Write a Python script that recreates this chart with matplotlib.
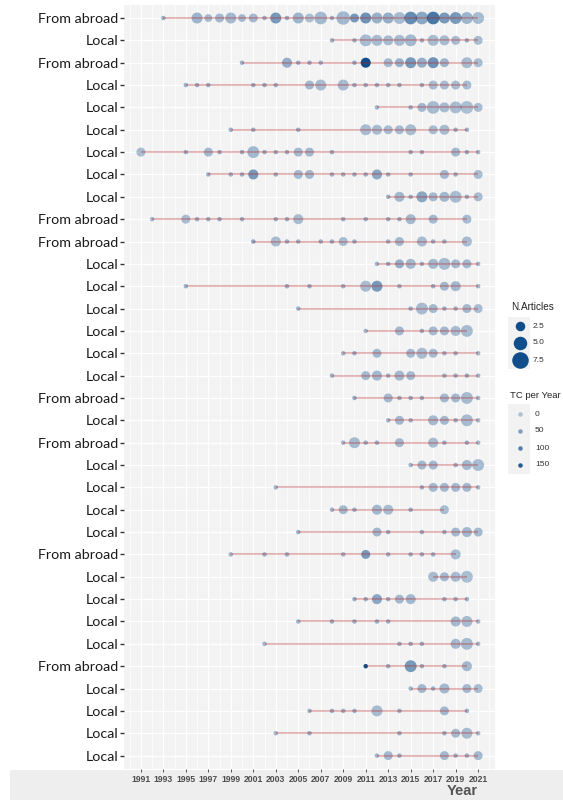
import matplotlib.pyplot as plt
from matplotlib.patches import Rectangle

# Authors' production over time (rows from top to bottom)
authors = ["From abroad", "Local", "From abroad", "Local", "Local", "Local", "Local", "Local",
           "Local", "From abroad", "From abroad", "Local", "Local", "Local", "Local", "Local",
           "Local", "From abroad", "Local", "From abroad", "Local", "Local", "Local", "Local",
           "From abroad", "Local", "Local", "Local", "Local", "From abroad", "Local", "Local",
           "Local", "Local"]

years = [
    [1993, 1996, 1997, 1998, 1999, 2000, 2001, 2002, 2003, 2004, 2005, 2006, 2007, 2008,
     2009, 2010, 2011, 2012, 2013, 2014, 2015, 2016, 2017, 2018, 2019, 2020, 2021],
    [2008, 2010, 2011, 2012, 2013, 2014, 2015, 2016, 2017, 2018, 2019, 2020, 2021],
    [2000, 2004, 2005, 2006, 2007, 2010, 2011, 2013, 2014, 2015, 2016, 2017, 2018, 2020, 2021],
    [1995, 1996, 1997, 2001, 2002, 2003, 2006, 2007, 2009, 2010, 2011, 2012, 2013, 2014,
     2016, 2017, 2018, 2019, 2020],
    [2012, 2015, 2016, 2017, 2018, 2019, 2020, 2021],
    [1999, 2001, 2005, 2011, 2012, 2013, 2014, 2015, 2017, 2018, 2019, 2020],
    [1991, 1995, 1997, 1998, 2000, 2001, 2002, 2003, 2004, 2005, 2006, 2008, 2015, 2016,
     2019, 2020, 2021],
    [1997, 1999, 2000, 2001, 2003, 2005, 2006, 2008, 2009, 2010, 2011, 2012, 2013, 2015,
     2018, 2019, 2021],
    [2013, 2014, 2015, 2016, 2017, 2018, 2019, 2020, 2021],
    [1992, 1995, 1996, 1997, 1998, 2000, 2003, 2004, 2005, 2009, 2011, 2013, 2014, 2015,
     2017, 2020],
    [2001, 2003, 2004, 2005, 2007, 2008, 2009, 2010, 2013, 2014, 2016, 2017, 2018, 2020],
    [2012, 2013, 2014, 2015, 2016, 2017, 2018, 2019, 2020, 2021],
    [1995, 2004, 2006, 2009, 2011, 2012, 2014, 2017, 2018, 2019, 2021],
    [2005, 2015, 2016, 2017, 2018, 2019, 2020, 2021],
    [2011, 2014, 2016, 2017, 2018, 2019, 2020],
    [2009, 2010, 2012, 2015, 2016, 2017, 2018, 2019, 2021],
    [2008, 2011, 2012, 2013, 2014, 2015, 2018, 2019, 2020, 2021],
    [2010, 2013, 2014, 2015, 2016, 2018, 2019, 2020, 2021],
    [2013, 2014, 2015, 2017, 2018, 2019, 2020, 2021],
    [2009, 2010, 2011, 2012, 2014, 2017, 2018, 2020, 2021],
    [2015, 2016, 2017, 2019, 2020, 2021],
    [2003, 2016, 2017, 2018, 2019, 2020, 2021],
    [2008, 2009, 2010, 2012, 2013, 2015, 2018],
    [2005, 2012, 2013, 2016, 2018, 2019, 2020, 2021],
    [1999, 2002, 2004, 2009, 2011, 2013, 2015, 2016, 2017, 2019],
    [2017, 2018, 2019, 2020],
    [2010, 2011, 2012, 2013, 2014, 2015, 2018, 2019, 2020],
    [2005, 2008, 2010, 2012, 2013, 2019, 2020, 2021],
    [2002, 2014, 2015, 2016, 2019, 2020, 2021],
    [2011, 2013, 2015, 2016, 2018, 2020],
    [2015, 2016, 2017, 2018, 2020, 2021],
    [2006, 2008, 2009, 2010, 2012, 2014, 2018, 2020],
    [2003, 2006, 2014, 2018, 2019, 2020, 2021],
    [2012, 2013, 2014, 2018, 2019, 2020, 2021],
]

articles = [
    [1, 6, 3, 4, 6, 3, 4, 1, 6, 1, 6, 4, 8, 1, 9, 4, 6, 6, 6, 7, 8, 8, 8, 6, 7, 7, 7],
    [1, 1, 7, 6, 5, 6, 7, 1, 6, 5, 4, 1, 4],
    [1, 5, 1, 1, 1, 1, 5, 4, 4, 6, 5, 6, 4, 6, 4],
    [1, 1, 1, 1, 1, 1, 4, 6, 6, 1, 1, 1, 1, 1, 1, 4, 4, 4, 4],
    [1, 1, 4, 8, 5, 7, 8, 4],
    [1, 1, 1, 6, 5, 4, 4, 6, 4, 5, 1, 1],
    [4, 1, 4, 1, 1, 7, 1, 1, 1, 4, 4, 1, 1, 1, 4, 1, 1],
    [1, 1, 1, 5, 1, 4, 4, 1, 1, 1, 1, 5, 1, 1, 4, 1, 4],
    [1, 5, 1, 6, 4, 5, 7, 1, 4],
    [1, 4, 1, 1, 1, 1, 1, 1, 5, 1, 1, 1, 1, 5, 4, 4],
    [1, 5, 1, 1, 1, 1, 4, 1, 1, 4, 5, 1, 1, 5],
    [1, 1, 4, 5, 1, 5, 7, 4, 4, 1],
    [1, 1, 1, 1, 6, 6, 1, 1, 4, 5, 1],
    [1, 1, 7, 4, 1, 1, 4, 4],
    [1, 4, 1, 4, 4, 5, 7],
    [1, 1, 4, 4, 6, 4, 1, 1, 1],
    [1, 4, 5, 1, 5, 4, 1, 1, 1, 1],
    [1, 4, 1, 1, 1, 4, 4, 7, 1],
    [1, 4, 1, 5, 4, 1, 7, 1],
    [1, 6, 1, 1, 4, 5, 1, 1, 1],
    [1, 4, 4, 1, 5, 7],
    [1, 1, 4, 4, 4, 4, 1],
    [1, 4, 1, 5, 5, 1, 4],
    [1, 4, 1, 1, 1, 4, 5, 4],
    [1, 1, 1, 1, 4, 1, 1, 1, 1, 5],
    [5, 4, 5, 7],
    [1, 1, 5, 1, 4, 5, 1, 1, 1],
    [1, 1, 1, 1, 1, 5, 6, 1],
    [1, 1, 1, 1, 5, 7, 1],
    [1, 1, 7, 1, 1, 5],
    [1, 4, 1, 5, 4, 4],
    [1, 1, 1, 1, 6, 1, 4, 1],
    [1, 1, 1, 1, 4, 6, 1],
    [1, 4, 1, 4, 1, 1, 4],
]

tc_per_year = [
    [25, 20, 15, 15, 15, 15, 15, 25, 60, 25, 20, 5, 15, 25, 15, 60, 70, 25, 30, 10, 80, 40, 110, 60, 60, 20, 10],
    [25, 25, 10, 10, 10, 10, 15, 25, 10, 10, 10, 25, 10],
    [25, 30, 25, 25, 25, 30, 170, 15, 25, 60, 30, 70, 20, 10, 10],
    [25, 25, 25, 25, 25, 25, 15, 10, 10, 25, 25, 25, 25, 25, 25, 10, 10, 10, 10],
    [20, 25, 15, 10, 10, 10, 5, 10],
    [25, 25, 25, 10, 10, 10, 10, 10, 10, 10, 25, 25],
    [10, 25, 15, 25, 25, 15, 25, 25, 25, 15, 15, 25, 25, 25, 15, 25, 25],
    [25, 25, 25, 60, 25, 15, 15, 25, 25, 25, 25, 40, 25, 25, 15, 25, 10],
    [25, 15, 25, 40, 15, 15, 10, 25, 10],
    [15, 10, 25, 25, 25, 25, 25, 25, 10, 25, 25, 25, 25, 15, 15, 10],
    [40, 10, 25, 25, 25, 25, 10, 25, 25, 15, 10, 25, 25, 10],
    [20, 25, 30, 15, 25, 15, 10, 15, 15, 20],
    [25, 25, 25, 25, 10, 60, 25, 25, 15, 15, 20],
    [20, 25, 10, 15, 25, 25, 15, 10],
    [20, 15, 25, 15, 15, 10, 10],
    [25, 25, 15, 15, 10, 15, 25, 25, 20],
    [25, 15, 15, 25, 15, 15, 25, 25, 25, 20],
    [25, 15, 25, 25, 25, 15, 15, 10, 20],
    [20, 15, 25, 15, 15, 25, 10, 20],
    [20, 10, 25, 25, 15, 10, 25, 25, 20],
    [20, 15, 15, 25, 15, 10],
    [20, 25, 15, 15, 15, 15, 20],
    [20, 15, 25, 15, 10, 25, 10],
    [20, 15, 25, 25, 25, 15, 15, 15],
    [20, 25, 25, 25, 60, 25, 25, 25, 25, 10],
    [10, 15, 10, 5],
    [25, 25, 40, 25, 15, 15, 25, 25, 25],
    [20, 25, 25, 25, 25, 15, 10, 20],
    [20, 25, 25, 25, 15, 10, 20],
    [170, 25, 60, 25, 25, 15],
    [20, 15, 25, 15, 15, 10],
    [20, 25, 25, 25, 10, 25, 15, 25],
    [20, 25, 25, 25, 15, 10, 20],
    [20, 15, 25, 15, 25, 25, 15],
]

size_legend = [2.5, 5.0, 7.5]
tc_legend = [0, 50, 100, 150]

W, H = 563, 800
POINT_COLOR = "#104E8B"
TC_MAX = 170


def size_of(n):
    return 10.5 * n


def alpha_of(tc):
    return 0.3 + 0.7 * min(tc, TC_MAX) / TC_MAX


fig = plt.figure(figsize=(W / 100, H / 100), dpi=100)
fig.patches.append(Rectangle((10 / W, 0), 1, 30 / H, transform=fig.transFigure,
                             facecolor="#eeeeee", edgecolor="none", zorder=-5))

ax = fig.add_axes([124 / W, 31 / H, (495 - 124) / W, (769 - 4.6) / H])
ax.set_facecolor("#f3f3f3")

for i in range(len(authors)):
    yr = years[i]
    ax.scatter(yr, [i] * len(yr), s=[size_of(n) for n in articles[i]],
               color=POINT_COLOR, alpha=[alpha_of(t) for t in tc_per_year[i]],
               linewidths=0, zorder=3)
    ax.plot([min(yr), max(yr)], [i, i], color="firebrick", alpha=0.3, lw=1.5,
            solid_capstyle="butt", zorder=4)

ax.set_xlim(1989.5, 2022.5)
ax.set_ylim(len(authors) - 0.4, -0.6)

ax.set_xticks(range(1991, 2022, 2))
ax.set_xticks(range(1990, 2023, 2), minor=True)
ax.set_yticks(range(len(authors)))
ax.set_yticklabels(authors, fontfamily="Lato", fontsize=10.3, color="#1a1a1a")
ax.set_xticklabels([str(y) for y in range(1991, 2022, 2)], fontfamily="Liberation Sans",
                   fontweight="bold")
ax.tick_params(axis="x", which="major", labelsize=6.2, labelcolor="#4d4d4d",
               length=2.5, width=0.7, color="#555555", pad=2)
ax.tick_params(axis="x", which="minor", length=0)
ax.tick_params(axis="y", length=3, width=1, color="#333333", pad=1)

ax.grid(True, which="major", color="white", lw=0.9)
ax.grid(True, which="minor", axis="x", color="white", lw=0.5)
ax.set_axisbelow(True)
for sp in ax.spines.values():
    sp.set_visible(False)

fig.text(478 / W, 1 - 791 / H, "Year", ha="right", va="center",
         fontsize=10.5, fontweight="bold", color="#555555", fontfamily="Liberation Sans")

# legends drawn in pixel coordinates
lg = fig.add_axes([500 / W, 1 - 490 / H, (W - 500) / W, 200 / H])
lg.set_xlim(500, W)
lg.set_ylim(490, 290)
lg.axis("off")

lg.text(511, 307, "N.Articles", fontsize=7.2, color="#222222", va="center",
        fontfamily="Liberation Sans")
lg.add_patch(Rectangle((508, 317), 22, 52, facecolor="#f2f2f2", edgecolor="none"))
for k, v in enumerate(size_legend):
    yk = 326 + k * 17
    lg.scatter([520], [yk], s=size_of(v) * 1.8, color=POINT_COLOR, linewidths=0)
    lg.text(533, yk, f"{v:.1f}", fontsize=6, color="#333333", va="center",
            fontfamily="Liberation Sans")

lg.text(510, 395, "TC per Year", fontsize=6.8, color="#222222", va="center",
        fontfamily="Liberation Sans")
lg.add_patch(Rectangle((508, 404), 22, 70, facecolor="#f2f2f2", edgecolor="none"))
for k, v in enumerate(tc_legend):
    yk = 414 + k * 17
    lg.scatter([520], [yk], s=size_of(1), color=POINT_COLOR, alpha=alpha_of(v), linewidths=0)
    lg.text(535, yk, str(v), fontsize=6, color="#333333", va="center",
            fontfamily="Liberation Sans")

fig.savefig("out.png", dpi=100)
